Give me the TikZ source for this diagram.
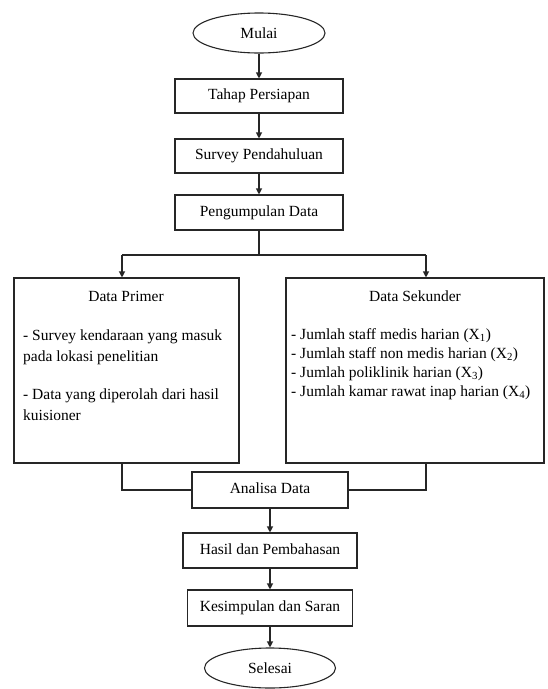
\documentclass[tikz,border=0pt]{standalone}
\usepackage{fontspec}
\setmainfont{Liberation Serif}
\usetikzlibrary{arrows.meta,shapes.geometric}
\begin{document}
\begin{tikzpicture}[x=1pt,y=-1pt,
  line/.style={draw=black!85,line width=1.1pt},
  arr/.style={line,-{Triangle[length=6pt,width=6pt]}},
  stepbox/.style={draw=black!85,line width=1.1pt,rectangle,inner sep=0pt,text height=10.5pt,text depth=3.5pt},
  bigbox/.style={draw=black!85,line width=1.1pt,rectangle,inner sep=0pt,minimum height=185pt},
  term/.style={draw=black!85,line width=1.1pt,ellipse,minimum width=132pt,minimum height=40pt,inner sep=0pt},
  txt/.style={inner sep=0pt,align=left,anchor=north west},
  font=\fontsize{15.5}{21}\selectfont]
\useasboundingbox (0,0) rectangle (547,689);
% top column
\node[term] (mulai) at (259,33) {Mulai};
\node[stepbox,minimum width=168pt,minimum height=34pt] (tahap) at (259,96) {Tahap Persiapan};
\node[stepbox,minimum width=168pt,minimum height=34pt] (survey) at (259,156) {Survey Pendahuluan};
\node[stepbox,minimum width=168pt,minimum height=35pt] (kumpul) at (259,212.5) {Pengumpulan Data};
% data boxes
\node[bigbox,minimum width=225pt] (primer) at (126.5,370.5) {};
\node[bigbox,minimum width=258pt] (sekunder) at (415,370.5) {};
\node (primt) at (126,296) {Data Primer};
\node (sekt) at (415,296) {Data Sekunder};
\node[txt] (primx) at (23,330) {- Survey kendaraan yang masuk\\pada lokasi penelitian\\[17pt]- Data yang diperolah dari hasil\\kuisioner};
\node[txt,font=\fontsize{15.5}{19}\selectfont] (sekx) at (291,328) {- Jumlah staff medis harian (X\textsubscript{1})\\- Jumlah staff non medis harian (X\textsubscript{2})\\- Jumlah poliklinik harian (X\textsubscript{3})\\- Jumlah kamar rawat inap harian (X\textsubscript{4})};
% bottom column
\node[stepbox,minimum width=156pt,minimum height=36pt] (analisa) at (270,490) {Analisa Data};
\node[stepbox,minimum width=174pt,minimum height=35pt] (hasil) at (270,550.5) {Hasil dan Pembahasan};
\node[stepbox,minimum width=165pt,minimum height=36pt] (simpul) at (270,608) {Kesimpulan dan Saran};
\node[term,minimum width=131pt] (selesai) at (270,668) {Selesai};
% connectors
\draw[arr] (mulai) -- (tahap);
\draw[arr] (tahap) -- (survey);
\draw[arr] (survey) -- (kumpul);
\coordinate (split) at (259,255);
\coordinate (pl) at (122,255);
\coordinate (pr) at (426,255);
\draw[line] (kumpul) -- (split);
\draw[line] (pl) -- (pr);
\draw[arr] (pl) -- (pl |- primer.north);
\draw[arr] (pr) -- (pr |- sekunder.north);
\draw[line] (primer.south -| pl) |- (analisa.west);
\draw[line] (sekunder.south -| pr) |- (analisa.east);
\draw[arr] (analisa) -- (hasil);
\draw[arr] (hasil) -- (simpul);
\draw[arr] (simpul) -- (selesai);
\end{tikzpicture}
\end{document}
